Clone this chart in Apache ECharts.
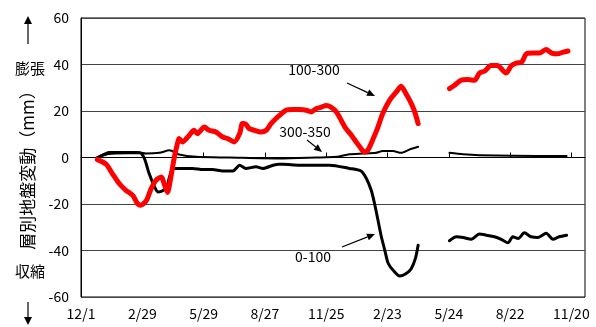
<!DOCTYPE html>
<html>
<head>
<meta charset="utf-8">
<script src="https://cdn.jsdelivr.net/npm/echarts@6/dist/echarts.min.js"></script>
<style>
html,body{margin:0;padding:0;background:#fff}
#c{width:596px;height:327px}
</style>
</head>
<body>
<div id="c"></div>
<script>
// Layered ground movement (mm) at three depth ranges, x = days since 12/1
const xTickLabels = ['12/1', '2/29', '5/29', '8/27', '11/25', '2/23', '5/24', '8/22', '11/20'];
const yMin = -60, yMax = 60, yStep = 20;
const dayStep = 90, dayMax = 740;

// depth 100-300 (first and second observation periods)
const depth100to300A = [[24,-0.9],[37,-2.9],[46,-6.9],[56,-11.2],[66,-14.1],[76,-16.3],[83,-19.8],[88,-20.5],[96,-18.5],[103,-13.4],[110,-9.8],[118,-8.4],[122,-11.2],[127,-15],[131,-10],[137,0],[142,6.5],[144,8.2],[149,6.7],[159,9.6],[166,11.7],[171,10.3],[181,13.1],[188,11.7],[198,11],[208,8.8],[215,8.2],[225,6.7],[233,10.3],[237,14.6],[242,14.3],[247,12.4],[255,11.7],[264,11],[272,11.7],[279,14.6],[286,16.7],[291,18],[301,20.3],[311,20.6],[321,20.6],[331,20.3],[338,19.6],[345,21],[353,21.7],[360,22.4],[367,21.7],[375,19.6],[382,16],[389,12.4],[397,9.6],[404,6.7],[411,3.9],[416,2.4],[421,3.1],[428,7.4],[436,13.1],[443,18.9],[453,24.6],[463,28.2],[470,30.6],[477,27.5],[485,23.2],[490,19.6],[495,14.6]];
const depth100to300B = [[541,29.6],[548,31],[558,33.2],[568,33.5],[578,33.2],[585,36.3],[593,37.2],[602,39.6],[612,39.6],[617,38.2],[624,36.3],[632,39.6],[639,40.6],[647,41],[654,44.6],[664,44.9],[673,44.9],[683,46.4],[691,44.9],[700,44.6],[708,45.3],[715,45.8]];

// depth 300-350
const depth300to350A = [[24,0],[42,2.4],[61,2.4],[81,2.4],[96,1.7],[115,2],[130,3.1],[144,1.3],[169,0.3],[218,0],[291,-0.4],[345,0],[375,0.3],[394,1.4],[414,1.7],[433,2],[443,2.8],[458,2.8],[470,2],[482,3.4],[495,4.6]];
const depth300to350B = [[541,2],[561,1.4],[585,1],[634,0.7],[713,0.6]];

// depth 0-100
const depth0to100A = [[24,0],[40,1.7],[70,2],[86,2],[93,-0.4],[100,-6.9],[108,-12.6],[113,-14.8],[120,-14.3],[126,-12.6],[130,-8.3],[135,-4.7],[144,-4.7],[164,-4.7],[179,-5.2],[193,-5.2],[208,-5.8],[223,-5.8],[233,-3.3],[242,-4.7],[257,-4],[267,-4.7],[282,-3.3],[291,-2.9],[296,-2.9],[321,-3.3],[345,-3.3],[365,-3.3],[394,-4.7],[411,-5.8],[419,-9],[426,-14],[431,-19.8],[436,-26.9],[441,-34.1],[446,-39.8],[451,-45.5],[458,-48.4],[468,-51],[478,-49.8],[485,-47.7],[491,-43.4],[495,-37.7]];
const depth0to100B = [[541,-35.8],[551,-34.1],[561,-34.4],[573,-35.2],[585,-32.9],[595,-33.4],[607,-34.1],[617,-35.2],[627,-36.7],[634,-34.1],[642,-34.8],[651,-32.4],[661,-34.1],[671,-34.4],[683,-32.6],[693,-35.2],[702,-34.1],[713,-33.4]];

const FONT = '"Noto Sans CJK JP", sans-serif';

function lineSeries(name, data, color, width) {
  return {
    name: name, type: 'line', data: data, showSymbol: false, symbol: 'none',
    smooth: 0.25, animation: false,
    lineStyle: { color: color, width: width, cap: 'round', join: 'round' }
  };
}

// arrow: shaft plus filled head at (x2, y2)
function arrow(x1, y1, x2, y2, len, half) {
  const a = Math.atan2(y2 - y1, x2 - x1);
  const bx = x2 - len * Math.cos(a), by = y2 - len * Math.sin(a);
  const px = -Math.sin(a) * half, py = Math.cos(a) * half;
  return [
    { type: 'line', silent: true, shape: { x1: x1, y1: y1, x2: bx, y2: by }, style: { stroke: '#000', lineWidth: 1.2 } },
    { type: 'polygon', silent: true, shape: { points: [[x2, y2], [bx + px, by + py], [bx - px, by - py]] }, style: { fill: '#000' } }
  ];
}

function label(text, x, y, size, rot) {
  return {
    type: 'text', silent: true, x: x, y: y, rotation: rot || 0,
    style: { text: text, font: size + 'px ' + FONT, fill: '#000', align: 'center', verticalAlign: 'middle' }
  };
}

const chart = echarts.init(document.getElementById('c'), null, { renderer: 'canvas' });
chart.setOption({
  backgroundColor: '#fff',
  animation: false,
  grid: { left: 81, right: 11, top: 18, bottom: 30, show: true, borderColor: '#000', borderWidth: 1, backgroundColor: 'transparent' },
  xAxis: {
    type: 'value', min: 0, max: dayMax, interval: dayStep,
    axisLine: { show: true, lineStyle: { color: '#000', width: 1 } },
    axisTick: { show: true, inside: true, length: 5, lineStyle: { color: '#000' } },
    splitLine: { show: false },
    axisLabel: {
      color: '#000', fontSize: 14, fontFamily: FONT, margin: 10,
      formatter: v => (v % dayStep === 0 ? (xTickLabels[v / dayStep] || '') : ''),
      showMaxLabel: false
    }
  },
  yAxis: {
    type: 'value', min: yMin, max: yMax, interval: yStep,
    axisLine: { show: true, lineStyle: { color: '#000', width: 1 } },
    axisTick: { show: false },
    splitLine: { show: true, lineStyle: { color: '#444', width: 1 } },
    axisLabel: { color: '#000', fontSize: 14, fontFamily: FONT, margin: 12 }
  },
  series: [
    lineSeries('300-350', depth300to350A, '#000', 2),
    lineSeries('300-350', depth300to350B, '#000', 2),
    lineSeries('0-100', depth0to100A, '#000', 3),
    lineSeries('0-100', depth0to100B, '#000', 3),
    lineSeries('100-300', depth100to300A, '#ff0000', 5),
    lineSeries('100-300', depth100to300B, '#ff0000', 5)
  ],
  graphic: [
    label('層別地盤変動（mm）', 28, 166, 17, Math.PI / 2),
    label('膨張', 30, 68, 15),
    label('収縮', 30, 271, 15),
    ...arrow(28, 44, 28, 16, 8, 4),
    ...arrow(28, 302, 28, 325, 8, 4),
    label('100-300', 314, 70, 14),
    ...arrow(347, 83, 375, 96, 8, 3.5),
    label('300-350', 305, 132, 14),
    ...arrow(307, 140, 322, 152, 8, 3.5),
    label('0-100', 313, 257, 14),
    ...arrow(342, 247, 375, 234, 8, 3.5)
  ]
});
</script>
</body>
</html>
